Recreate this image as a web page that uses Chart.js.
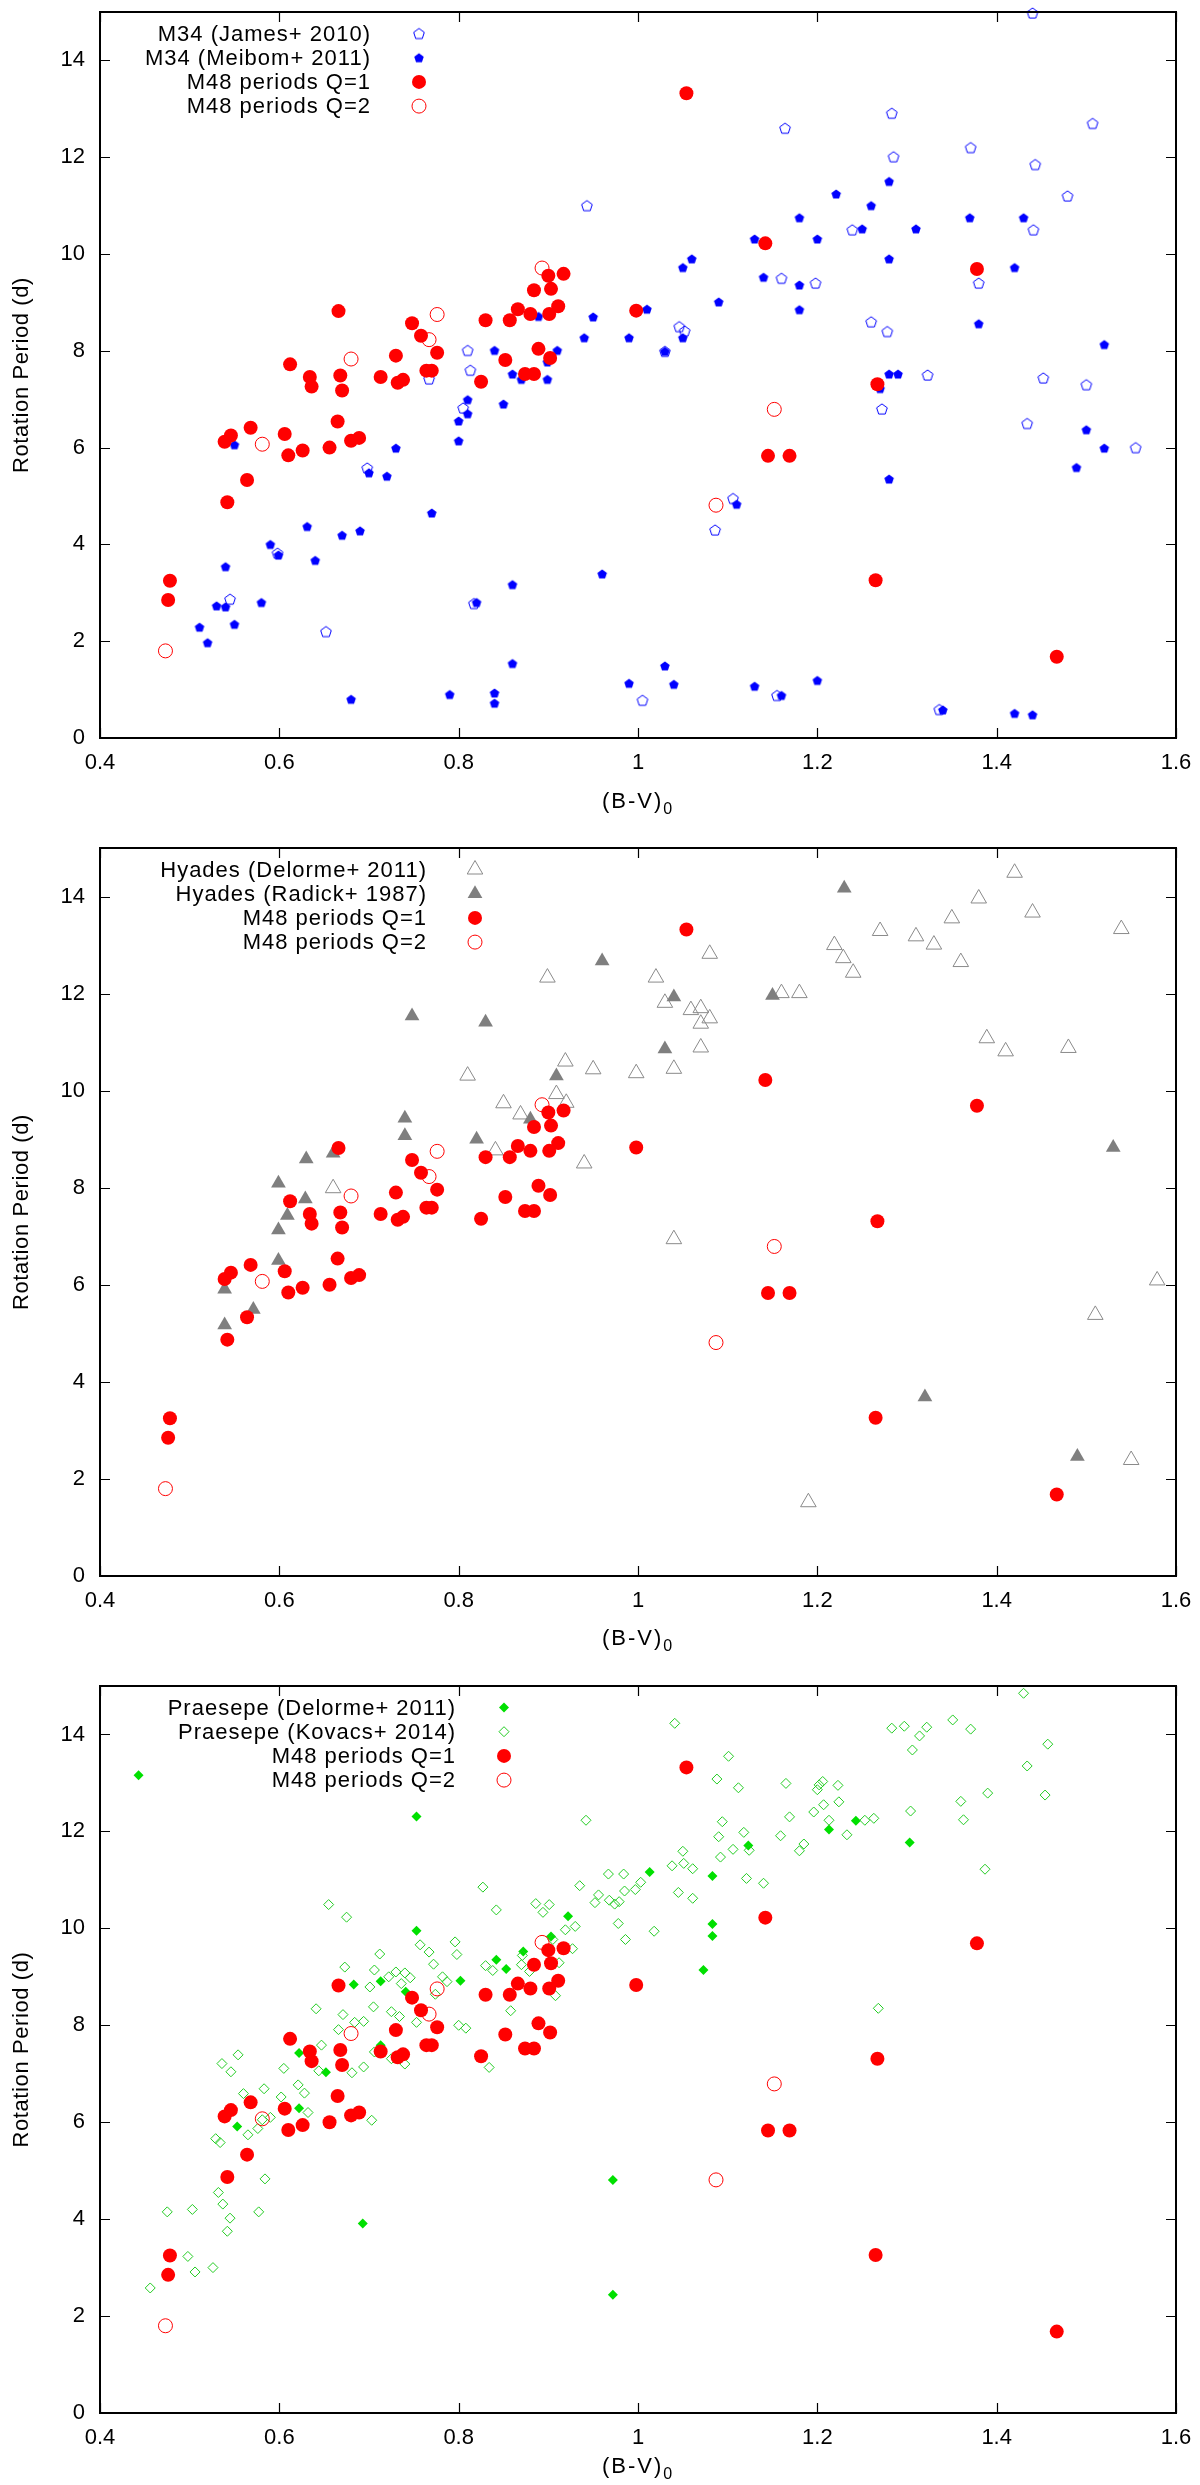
<!DOCTYPE html>
<html>
<head>
<meta charset="utf-8">
<script src="https://cdn.jsdelivr.net/npm/chart.js@4.4.1/dist/chart.umd.min.js"></script>
<style>
  html, body { margin: 0; padding: 0; background: #fff; }
  canvas { display: block; }
</style>
</head>
<body>
<canvas id="panel-m34" width="1200" height="828"></canvas>
<canvas id="panel-hyades" width="1200" height="830"></canvas>
<canvas id="panel-praesepe" width="1200" height="827"></canvas>
<script>
// axis ticks and titles
const xTicks = [0.4, 0.6, 0.8, 1.0, 1.2, 1.4, 1.6];
const yTicks = [0, 2, 4, 6, 8, 10, 12, 14];
const yTitle = 'Rotation Period (d)';
const xTitle = '(B-V)';
const xTitleSub = '0';

// M48 (this work), same in every panel
const m48q1BV = [0.666, 0.748, 0.758, 0.776, 0.730, 0.612, 0.634, 0.636, 0.668, 0.670, 0.713, 0.732, 0.738, 0.764, 0.770,
  0.665, 0.606, 0.568, 0.546, 0.539, 0.610, 0.626, 0.656, 0.680, 0.689, 0.564, 0.542, 0.478, 0.476,
  0.830, 0.825, 0.852, 0.857, 0.866, 0.880, 0.884, 0.900, 0.903, 0.917, 0.901, 0.911, 0.889, 0.902, 0.874, 0.884,
  0.998, 1.054, 1.142, 1.378, 1.267, 1.145, 1.169, 1.265, 1.467];
const m48q1P = [8.82, 8.57, 8.31, 7.96, 7.90, 7.72, 7.46, 7.26, 7.49, 7.18, 7.46, 7.34, 7.40, 7.59, 7.59,
  6.54, 6.28, 6.41, 6.25, 6.12, 5.84, 5.94, 6.00, 6.14, 6.20, 5.33, 4.87, 3.25, 2.85,
  8.63, 7.36, 7.81, 8.63, 8.86, 8.76, 9.25, 9.55, 9.28, 9.59, 8.76, 8.92, 8.04, 7.85, 7.52, 7.52,
  8.83, 13.32, 10.22, 9.69, 7.31, 5.83, 5.83, 3.26, 1.68];
const m48q2BV = [0.473, 0.581, 0.680, 0.767, 0.776, 0.893, 1.152, 1.087];
const m48q2P = [1.80, 6.07, 7.83, 8.23, 8.75, 9.71, 6.79, 4.81];

// M34
const m34JamesBV = [0.545, 0.652, 0.698, 0.598, 0.767, 0.810, 0.813, 0.805, 0.817, 0.943, 1.005, 1.440,
  1.164, 1.283, 1.285, 1.371, 1.507, 1.443, 1.479, 1.239, 1.441, 1.160, 1.198, 1.380, 1.046, 1.052,
  1.260, 1.278, 1.030, 1.323, 1.452, 1.500, 1.272, 1.434, 1.555, 1.106, 1.086, 1.155, 1.336];
const m34JamesP = [2.87, 2.20, 5.58, 3.82, 7.42, 8.01, 7.60, 6.82, 2.78, 11.00, 0.78, 14.98,
  12.60, 12.91, 12.01, 12.20, 12.70, 11.85, 11.20, 10.50, 10.50, 9.50, 9.40, 9.40, 8.50, 8.41,
  8.60, 8.40, 7.99, 7.50, 7.44, 7.30, 6.80, 6.50, 6.00, 4.95, 4.30, 0.88, 0.59];
const m34MeibomBV = [0.550, 0.540, 0.530, 0.540, 0.550, 0.511, 0.520, 0.580, 0.590, 0.599, 0.631, 0.640,
  0.670, 0.690, 0.700, 0.720, 0.730, 0.770, 0.680, 0.790, 0.840, 0.840, 0.860, 0.860, 0.820, 0.800,
  0.810, 0.810, 0.800, 0.840, 0.850, 0.860, 0.870, 0.889, 0.899, 0.899, 0.910, 0.940, 0.950, 0.960,
  0.990, 0.990, 1.010, 1.030, 1.050, 1.060, 1.050, 1.090, 1.130, 1.140, 1.180, 1.180, 1.180, 1.200,
  1.221, 1.250, 1.260, 1.280, 1.280, 1.310, 1.370, 1.430, 1.420, 1.380, 1.280, 1.290, 1.270, 1.520,
  1.500, 1.520, 1.489, 1.280, 1.110, 1.030, 1.040, 1.130, 1.160, 1.200, 1.340, 1.420, 1.440];
const m34MeibomP = [6.06, 3.54, 2.73, 2.71, 2.35, 2.29, 1.97, 2.80, 4.00, 3.78, 4.37, 3.67,
  4.19, 4.28, 5.48, 5.41, 5.99, 4.65, 0.80, 0.90, 0.93, 0.72, 1.54, 3.17, 2.80, 6.14,
  6.70, 6.99, 6.55, 8.01, 6.90, 7.52, 7.41, 8.71, 7.77, 7.41, 8.01, 8.27, 8.70, 3.39,
  8.27, 1.13, 8.86, 7.99, 9.72, 9.90, 8.27, 9.01, 10.31, 9.52, 10.75, 9.36, 8.85, 10.31,
  11.24, 10.52, 11.00, 11.50, 9.90, 10.52, 10.75, 10.75, 9.72, 8.56, 7.52, 7.52, 7.22, 8.13,
  6.37, 5.99, 5.59, 5.35, 4.83, 1.49, 1.11, 1.07, 0.88, 1.19, 0.58, 0.51, 0.48];

// Hyades
const hyDelormeBV = [0.660, 0.899, 0.810, 0.919, 0.950, 0.998, 0.850, 0.909, 0.920, 0.869, 0.841, 0.940,
  1.420, 1.380, 1.440, 1.350, 1.270, 1.310, 1.330, 1.360, 1.539, 1.219, 1.229, 1.240, 1.080, 1.020,
  1.030, 1.160, 1.180, 1.059, 1.070, 1.080, 1.070, 1.070, 1.040, 1.389, 1.410, 1.480, 1.040, 1.579,
  1.510, 1.550, 1.190];
const hyDelormeP = [7.99, 12.33, 10.31, 10.60, 10.44, 10.36, 9.74, 9.93, 9.75, 9.51, 8.77, 8.50,
  14.49, 13.96, 13.67, 13.55, 13.29, 13.18, 13.01, 12.65, 13.33, 13.00, 12.73, 12.43, 12.82, 12.33,
  11.81, 12.01, 12.01, 11.66, 11.70, 11.49, 11.38, 10.89, 10.45, 11.08, 10.81, 10.88, 6.94, 6.09,
  5.38, 2.39, 1.52];
const hyRadickBV = [0.748, 0.830, 0.960, 0.909, 0.880, 0.740, 0.740, 0.820, 0.630, 0.660, 0.599, 0.629,
  0.609, 0.599, 0.599, 0.539, 0.571, 0.539, 1.230, 1.040, 1.150, 1.030, 1.530, 1.320, 1.490];
const hyRadickP = [11.54, 11.41, 12.67, 10.30, 9.41, 9.43, 9.07, 9.00, 8.59, 8.71, 8.09, 7.77,
  7.43, 7.13, 6.50, 5.91, 5.49, 5.17, 14.17, 11.93, 11.96, 10.86, 8.83, 3.69, 2.46];

// Praesepe
const prDelormeBV = [0.443, 0.753, 0.753, 0.683, 0.713, 0.741, 0.802, 0.842, 0.853, 0.872, 0.903, 0.922,
  0.622, 0.652, 0.622, 0.553, 0.713, 0.693, 0.972, 0.972, 1.013, 1.083, 1.123, 1.213, 1.243, 1.303,
  1.083, 1.083, 1.073];
const prDelormeP = [13.16, 12.31, 9.95, 8.84, 8.91, 8.69, 8.92, 9.35, 9.16, 9.52, 9.83, 10.25,
  7.43, 7.03, 6.29, 5.91, 7.59, 3.91, 4.81, 2.44, 11.16, 11.08, 11.71, 12.04, 12.22, 11.77,
  10.09, 9.84, 9.14];
const prKovacsBV = [0.456, 0.475, 0.503, 0.498, 0.506, 0.526, 0.542, 0.545, 0.537, 0.532, 0.577, 0.584,
  0.529, 0.534, 0.565, 0.576, 0.581, 0.590, 0.560, 0.583, 0.602, 0.621, 0.628, 0.632, 0.536, 0.546,
  0.554, 0.605, 0.647, 0.644, 0.641, 0.655, 0.675, 0.673, 0.671, 0.666, 0.684, 0.694, 0.681, 0.694,
  0.703, 0.712, 0.706, 0.701, 0.705, 0.706, 0.722, 0.730, 0.736, 0.740, 0.746, 0.725, 0.734, 0.753,
  0.725, 0.740, 0.757, 0.767, 0.772, 0.782, 0.774, 0.787, 0.796, 0.798, 0.800, 0.808, 0.827, 0.842,
  0.830, 0.838, 0.858, 0.834, 0.870, 0.871, 0.879, 0.886, 0.894, 0.901, 0.905, 0.912, 0.919, 0.930,
  0.927, 0.908, 0.935, 0.942, 0.956, 0.952, 0.967, 0.984, 0.985, 0.968, 0.974, 0.978, 0.986,
  1.430, 1.041, 1.101, 1.088, 1.112, 1.165, 1.200, 1.202, 1.206, 1.223, 1.224, 1.207, 1.196, 1.169,
  1.213, 1.233, 1.253, 1.263, 1.283, 1.297, 1.314, 1.322, 1.306, 1.351, 1.371, 1.457, 1.434, 1.454,
  1.390, 1.360, 1.363, 1.304, 1.387, 1.094, 1.090, 1.118, 1.124, 1.106, 1.092, 1.159, 1.185, 1.180,
  1.121, 1.140, 1.050, 1.038, 1.051, 1.061, 1.045, 1.061, 1.003, 0.997, 0.979, 1.018, 1.268];
const prKovacsP = [2.58, 4.15, 4.20, 3.23, 2.91, 3.00, 3.75, 4.02, 4.31, 4.55, 4.15, 4.83,
  5.66, 5.58, 5.74, 5.87, 6.05, 6.10, 6.59, 6.69, 6.52, 6.77, 6.60, 6.20, 7.21, 7.04,
  7.39, 7.11, 7.59, 7.06, 8.34, 10.49, 10.23, 9.20, 8.22, 7.91, 8.06, 8.08, 7.02, 7.14,
  6.04, 9.47, 9.14, 8.79, 8.38, 7.45, 9.00, 9.10, 8.86, 9.08, 8.98, 8.28, 8.18, 8.06,
  7.31, 7.20, 9.66, 9.51, 9.26, 9.00, 8.64, 8.90, 9.72, 9.46, 8.00, 7.94, 10.85, 10.38,
  9.23, 9.13, 8.30, 7.13, 9.25, 9.44, 9.11, 10.51, 10.33, 10.49, 9.77, 9.29, 9.97, 10.04,
  9.58, 8.61, 10.88, 12.23, 10.69, 10.53, 11.12, 11.12, 10.77, 10.58, 10.50, 10.10, 9.77,
  14.85, 14.23, 13.55, 13.08, 12.90, 12.99, 12.86, 12.96, 13.03, 12.95, 12.61, 12.55, 12.40, 12.30,
  12.23, 11.93, 12.23, 12.27, 14.13, 14.17, 13.97, 14.15, 13.68, 14.30, 14.11, 13.80, 13.35, 12.75,
  12.79, 12.62, 12.24, 12.42, 11.22, 12.20, 11.89, 11.98, 11.61, 11.63, 11.47, 11.91, 11.74, 11.60,
  11.03, 10.93, 11.59, 11.29, 11.34, 11.23, 10.74, 10.62, 10.95, 10.80, 10.55, 9.94, 8.35];

const FONT = '"Liberation Sans", Arial, Helvetica, sans-serif';
Chart.defaults.font.family = FONT;
Chart.defaults.color = '#000';

const pts = (xs, ys) => xs.map((x, i) => ({ x, y: ys[i] }));

// gnuplot style pentagon, drawn once and used as an image point style
function pentagon(r, filled, color) {
  const size = Math.ceil(r * 2 + 4);
  const c = document.createElement('canvas');
  c.width = c.height = size;
  const g = c.getContext('2d');
  const cx = size / 2, cy = size / 2 + r * 0.1;
  g.beginPath();
  for (let i = 0; i < 5; i++) {
    const a = -Math.PI / 2 + i * 2 * Math.PI / 5;
    const px = cx + r * Math.cos(a), py = cy + r * Math.sin(a);
    if (i) g.lineTo(px, py); else g.moveTo(px, py);
  }
  g.closePath();
  if (filled) {
    g.fillStyle = color;
    g.fill();
  } else {
    g.strokeStyle = color;
    g.lineWidth = 1;
    g.stroke();
  }
  return c;
}

const NONE = 'rgba(0,0,0,0)';
const styles = {
  q1: { pointStyle: 'circle', pointRadius: 7, backgroundColor: '#ff0000', borderColor: '#ff0000', borderWidth: 0 },
  q2: { pointStyle: 'circle', pointRadius: 7, backgroundColor: NONE, borderColor: '#ff0000', borderWidth: 1 },
  james: { pointStyle: pentagon(5.6, false, '#0000ff'), pointRadius: 5, backgroundColor: NONE, borderColor: '#0000ff', borderWidth: 0 },
  meibom: { pointStyle: pentagon(5, true, '#0000ff'), pointRadius: 5, backgroundColor: '#0000ff', borderColor: '#0000ff', borderWidth: 0 },
  hyOpen: { pointStyle: 'triangle', pointRadius: 9, backgroundColor: NONE, borderColor: '#8a8a8a', borderWidth: 1 },
  hyFill: { pointStyle: 'triangle', pointRadius: 8.5, backgroundColor: '#7f7f7f', borderColor: '#7f7f7f', borderWidth: 0 },
  prFill: { pointStyle: 'rectRot', pointRadius: 5, backgroundColor: '#00e000', borderColor: '#00e000', borderWidth: 0 },
  prOpen: { pointStyle: 'rectRot', pointRadius: 5, backgroundColor: NONE, borderColor: '#22cc22', borderWidth: 1 }
};

function m48Sets() {
  return [
    { label: 'M48 periods Q=1', data: pts(m48q1BV, m48q1P), ...styles.q1 },
    { label: 'M48 periods Q=2', data: pts(m48q2BV, m48q2P), ...styles.q2 }
  ];
}

// frame with inward ticks on all sides, axis titles and the gnuplot style key
const gnuplotFrame = {
  id: 'gnuplotFrame',
  afterDraw(chart, args, opts) {
    const { ctx, chartArea: a } = chart;
    const xs = chart.scales.x, ys = chart.scales.y;
    ctx.save();

    ctx.strokeStyle = '#000';
    ctx.lineWidth = 1.2;
    ctx.beginPath();
    xs.ticks.forEach(t => {
      const px = Math.round(xs.getPixelForValue(t.value)) + 0.5;
      ctx.moveTo(px, a.bottom); ctx.lineTo(px, a.bottom - 10);
      ctx.moveTo(px, a.top); ctx.lineTo(px, a.top + 10);
    });
    ys.ticks.forEach(t => {
      const py = Math.round(ys.getPixelForValue(t.value)) + 0.5;
      ctx.moveTo(a.left, py); ctx.lineTo(a.left + 10, py);
      ctx.moveTo(a.right, py); ctx.lineTo(a.right - 10, py);
    });
    ctx.stroke();
    ctx.lineWidth = 2;
    ctx.strokeRect(a.left, a.top, a.right - a.left, a.bottom - a.top);

    ctx.fillStyle = '#000';
    ctx.textBaseline = 'middle';
    ctx.font = '22px ' + FONT;
    ctx.textAlign = 'center';
    ctx.letterSpacing = '0.6px';
    ctx.save();
    ctx.translate(22, (a.top + a.bottom) / 2);
    ctx.rotate(-Math.PI / 2);
    ctx.fillText(yTitle, 0, 0);
    ctx.restore();

    ctx.letterSpacing = '2px';
    const wMain = ctx.measureText(xTitle).width;
    ctx.font = '16px ' + FONT;
    const wSub = ctx.measureText(xTitleSub).width;
    const x0 = (a.left + a.right) / 2 - (wMain + wSub) / 2;
    const ty = a.bottom + opts.titleOffset;
    ctx.textAlign = 'left';
    ctx.font = '22px ' + FONT;
    ctx.fillText(xTitle, x0, ty);
    ctx.font = '16px ' + FONT;
    ctx.fillText(xTitleSub, x0 + wMain, ty + 8);

    // key
    ctx.font = '22px ' + FONT;
    ctx.textAlign = 'right';
    ctx.letterSpacing = '1px';
    chart.data.datasets.forEach((ds, i) => {
      const ry = a.top + 21.5 + i * 24.2;
      ctx.fillStyle = '#000';
      ctx.fillText(ds.label, opts.textRight + 1, ry + 1);
      ctx.fillStyle = ds.backgroundColor;
      ctx.strokeStyle = ds.borderColor;
      ctx.lineWidth = ds.borderWidth;
      Chart.helpers.drawPoint(ctx, {
        pointStyle: ds.pointStyle, radius: ds.pointRadius, borderWidth: ds.borderWidth, rotation: 0
      }, opts.textRight + 49, ry);
    });
    ctx.restore();
  }
};

function makeChart(id, datasets, top, xAxisHeight, keyRight, titleOffset) {
  const n = datasets.length;
  datasets.forEach((ds, i) => { ds.order = n - i; ds.clip = false; });
  return new Chart(document.getElementById(id), {
    type: 'scatter',
    data: { datasets },
    options: {
      responsive: false,
      animation: false,
      events: [],
      layout: { padding: { top, right: 24, bottom: 0, left: 0 } },
      plugins: {
        legend: { display: false },
        tooltip: { enabled: false },
        gnuplotFrame: { textRight: keyRight, titleOffset }
      },
      scales: {
        x: {
          type: 'linear',
          min: 0.4,
          max: 1.6,
          grid: { display: false, drawTicks: false },
          border: { display: false },
          afterBuildTicks: s => { s.ticks = xTicks.map(value => ({ value })); },
          afterFit: s => {
            s.height = xAxisHeight;
            s.paddingLeft = s.paddingRight = s.paddingTop = s.paddingBottom = 0;
          },
          ticks: {
            padding: 12,
            maxRotation: 0,
            autoSkip: false,
            font: { size: 22 },
            callback: v => String(Math.round(v * 10) / 10)
          }
        },
        y: {
          type: 'linear',
          min: 0,
          max: 15,
          grid: { display: false, drawTicks: false },
          border: { display: false },
          afterBuildTicks: s => { s.ticks = yTicks.map(value => ({ value })); },
          afterFit: s => {
            s.width = 100;
            s.paddingLeft = s.paddingRight = s.paddingTop = s.paddingBottom = 0;
          },
          ticks: { padding: 15, autoSkip: false, font: { size: 22 }, callback: v => String(v) }
        }
      }
    },
    plugins: [gnuplotFrame]
  });
}

makeChart('panel-m34', [
  { label: 'M34 (James+ 2010)', data: pts(m34JamesBV, m34JamesP), ...styles.james },
  { label: 'M34 (Meibom+ 2011)', data: pts(m34MeibomBV, m34MeibomP), ...styles.meibom },
  ...m48Sets()
], 12, 90, 370, 64);

makeChart('panel-hyades', [
  { label: 'Hyades (Delorme+ 2011)', data: pts(hyDelormeBV, hyDelormeP), ...styles.hyOpen },
  { label: 'Hyades (Radick+ 1987)', data: pts(hyRadickBV, hyRadickP), ...styles.hyFill },
  ...m48Sets()
], 20, 82, 426, 63);

makeChart('panel-praesepe', [
  { label: 'Praesepe (Delorme+ 2011)', data: pts(prDelormeBV, prDelormeP), ...styles.prFill },
  { label: 'Praesepe (Kovacs+ 2014)', data: pts(prKovacsBV, prKovacsP), ...styles.prOpen },
  ...m48Sets()
], 28, 72, 455, 54);
</script>
</body>
</html>
